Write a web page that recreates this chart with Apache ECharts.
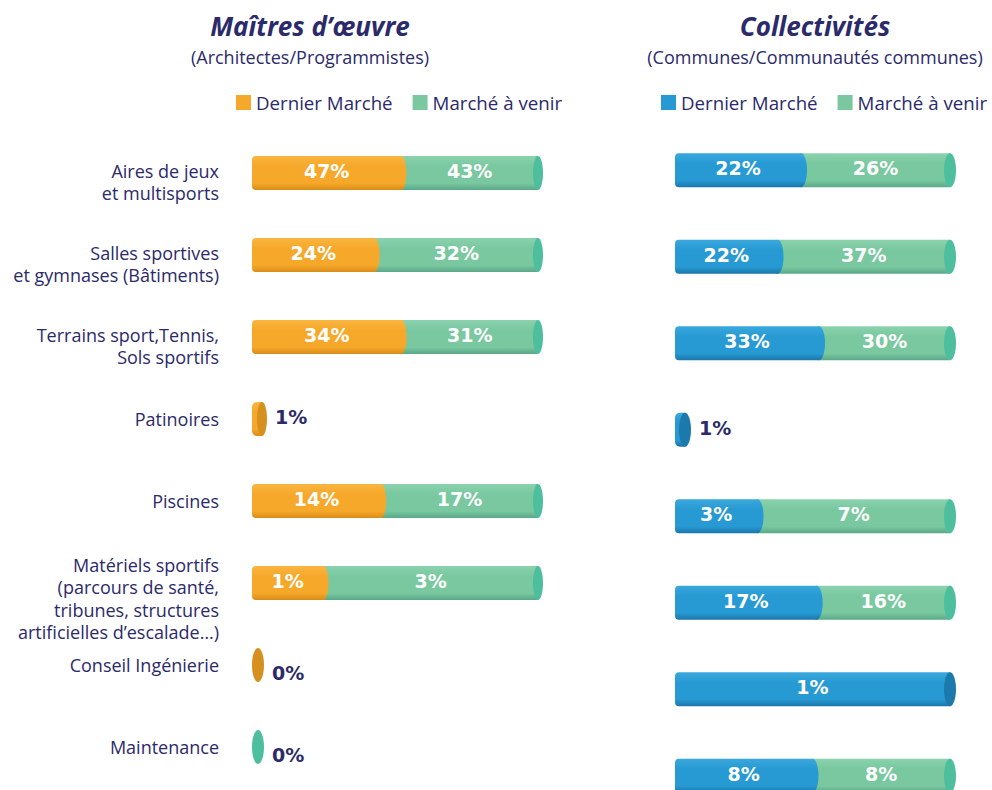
<!DOCTYPE html>
<html><head><meta charset="utf-8">
<script src="https://cdn.jsdelivr.net/npm/echarts@6/dist/echarts.min.js"></script>
<style>html,body{margin:0;padding:0;background:#fff}#c{width:992px;height:790px}</style>
</head><body><div id="c"></div>
<script>
// ---- data ----
const categories = [
  'Aires de jeux\net multisports',
  'Salles sportives\net gymnases (Bâtiments)',
  'Terrains sport,Tennis,\nSols sportifs',
  'Patinoires',
  'Piscines',
  'Matériels sportifs\n(parcours de santé,\ntribunes, structures\nartificielles d’escalade…)',
  'Conseil Ingénierie',
  'Maintenance'
];
const seriesNames = ['Dernier Marché', 'Marché à venir'];
const moeDernier = [47, 24, 34, 1, 14, 1, 0, null];
const moeVenir   = [43, 32, 31, null, 17, 3, null, 0];
const colDernier = [22, 22, 33, 1, 3, 17, 1, 8];
const colVenir   = [26, 37, 30, null, 7, 16, null, 8];
// rows drawn as a short stub instead of a full bar
const moeStubRows = [3, 6, 7];
const colStubRows = [3];

// ---- style ----
const NAVY = '#2b2a6b';
const ORANGE = {top:'#fbb53f', base:'#f6a82b', bottom:'#d98b18', cap:'#d6901f'};
const GREEN  = {top:'#8ad2ad', base:'#79c8a0', bottom:'#5aa888', cap:'#4dbf9e'};
const BLUE   = {top:'#3aa8dd', base:'#279ad3', bottom:'#1a76aa', cap:'#1c79ab'};
const PCT_FONT = 'DejaVu Sans';
const TXT_FONT = 'Open Sans';

function buildData(values, other, isFirst, stubRows) {
  const out = [];
  values.forEach((v, i) => {
    if (v === null || v === undefined) return;
    const o = other[i];
    let s, e;
    if (isFirst) { s = 0; e = (o === null || o === undefined) ? 100 : v / (v + o) * 100; }
    else { s = (o === null || o === undefined) ? 0 : o / (v + o) * 100; e = 100; }
    let mode = 0;
    if (stubRows.indexOf(i) >= 0) mode = (v === 0) ? 2 : 1;
    out.push([i, s, e, v, mode]);
  });
  return out;
}

function pctText(x, y, text, fill, align) {
  return {type:'text', style:{x, y, text, fill, fontSize:19, fontWeight:'bold', fontFamily:PCT_FONT, align, verticalAlign:'middle'}};
}

function makeRender(pal, capRx) {
  return function (params, api) {
    const cat = api.value(0), s = api.value(1), e = api.value(2), val = api.value(3), mode = api.value(4);
    const pS = api.coord([s, cat]);
    const pE = api.coord([e, cat]);
    const h = 34, yc = pS[1], top = yc - h / 2;
    const body = new echarts.graphic.LinearGradient(0, 0, 0, 1, [
      {offset:0, color:pal.top}, {offset:0.3, color:pal.base}, {offset:0.8, color:pal.base}, {offset:1, color:pal.bottom}
    ]);
    const ch = [];
    if (mode === 2) {
      ch.push({type:'ellipse', shape:{cx:pS[0] + 6, cy:yc, rx:6, ry:h / 2}, style:{fill:pal.cap}});
      ch.push(pctText(pS[0] + 20, yc + 8, val + '%', NAVY, 'left'));
    } else if (mode === 1) {
      ch.push({type:'rect', shape:{x:pS[0], y:top, width:10, height:h, r:[5, 0, 0, 5]}, style:{fill:body}});
      ch.push({type:'ellipse', shape:{cx:pS[0] + 10, cy:yc, rx:capRx, ry:h / 2}, style:{fill:pal.cap}});
      ch.push(pctText(pS[0] + 10 + capRx + 8, yc - 2, val + '%', NAVY, 'left'));
    } else {
      ch.push({type:'rect', shape:{x:pS[0], y:top, width:pE[0] - pS[0], height:h, r: s === 0 ? [4, 0, 0, 4] : 0}, style:{fill:body}});
      if (e >= 100) {
        ch.push({type:'ellipse', shape:{cx:pE[0], cy:yc, rx:capRx, ry:h / 2}, style:{fill:pal.cap}});
      } else {
        ch.push({type:'ellipse', shape:{cx:pE[0], cy:yc, rx:capRx, ry:h / 2}, style:{fill:body}});
      }
      ch.push(pctText((pS[0] + pE[0]) / 2, yc - 2, val + '%', '#ffffff', 'center'));
    }
    return {type:'group', children:ch};
  };
}

function customSeries(name, gridIdx, data, pal, capRx, z) {
  return {
    type:'custom', name, xAxisIndex:gridIdx, yAxisIndex:gridIdx, z,
    itemStyle:{color:pal.base},
    encode:{x:[1, 2], y:0},
    clip:false,
    renderItem: makeRender(pal, capRx),
    data
  };
}

const chart = echarts.init(document.getElementById('c'), null, {renderer:'svg'});
const labelFormatter = v => {
  const n = v.split('\n').length;
  if (n === 1) return v;
  return '{s' + n + '| }\n' + v;
};

const titleStyle = {fontFamily:TXT_FONT, fontSize:26, fontWeight:'bold', fontStyle:'italic', color:NAVY, lineHeight:40};
const subStyle = {fontFamily:TXT_FONT, fontSize:18, color:NAVY, lineHeight:22};

chart.setOption({
  backgroundColor:'#ffffff',
  animation:false,
  title:[
    {text:'Maîtres d’œuvre', subtext:'(Architectes/Programmistes)', left:310, top:6, padding:0, textAlign:'center', itemGap:0,
     textStyle:titleStyle, subtextStyle:subStyle},
    {text:'Collectivités', subtext:'(Communes/Communautés communes)', left:815, top:6, padding:0, textAlign:'center', itemGap:0,
     textStyle:titleStyle, subtextStyle:subStyle}
  ],
  legend:[
    {data:seriesNames, left:236, top:93, padding:0, icon:'rect', itemWidth:15, itemHeight:15, itemGap:20, selectedMode:false,
     textStyle:{fontFamily:TXT_FONT, fontSize:18.7, color:NAVY}},
    {data:seriesNames.map(n => n + ' '), left:661, top:93, padding:0, icon:'rect', itemWidth:15, itemHeight:15, itemGap:20, selectedMode:false,
     formatter:n => n.trim(), textStyle:{fontFamily:TXT_FONT, fontSize:18.7, color:NAVY}}
  ],
  grid:[
    {left:252, width:286, top:132, height:656, outerBoundsMode:'none'},
    {left:675, width:275, top:127, height:692, outerBoundsMode:'none'}
  ],
  xAxis:[
    {gridIndex:0, type:'value', min:0, max:100, show:false},
    {gridIndex:1, type:'value', min:0, max:100, show:false}
  ],
  yAxis:[
    {gridIndex:0, type:'category', data:categories, inverse:true,
     axisLine:{show:false}, axisTick:{show:false}, splitLine:{show:false},
     axisLabel:{margin:33, color:NAVY, fontFamily:TXT_FONT, fontSize:18, lineHeight:22.5, align:'right',
       formatter:labelFormatter, rich:{s2:{lineHeight:18, fontSize:1}, s4:{lineHeight:31, fontSize:1}}}},
    {gridIndex:1, type:'category', data:categories, inverse:true, show:false}
  ],
  series:[
    customSeries(seriesNames[0], 0, buildData(moeDernier, moeVenir, true, moeStubRows), ORANGE, 5, 3),
    customSeries(seriesNames[1], 0, buildData(moeVenir, moeDernier, false, moeStubRows), GREEN, 5, 2),
    customSeries(seriesNames[0] + ' ', 1, buildData(colDernier, colVenir, true, colStubRows), BLUE, 6, 3),
    customSeries(seriesNames[1] + ' ', 1, buildData(colVenir, colDernier, false, colStubRows), GREEN, 6, 2)
  ]
});
</script>
</body></html>
